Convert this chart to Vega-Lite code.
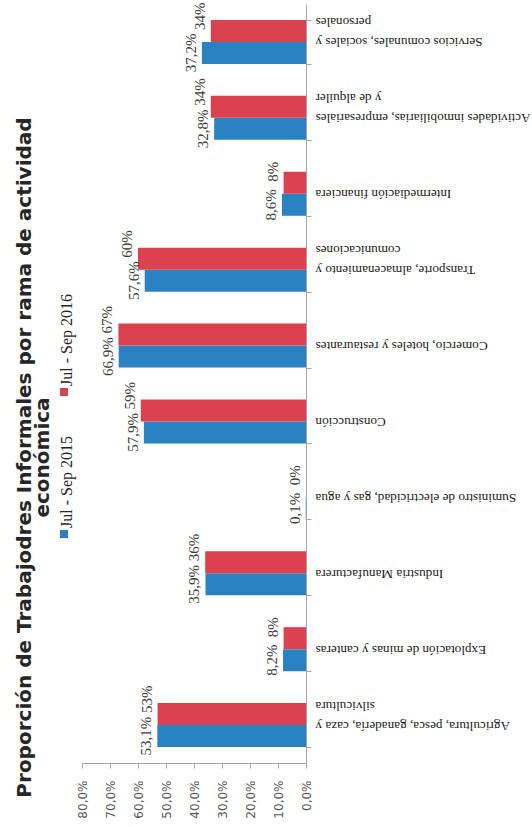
{
  "$schema": "https://vega.github.io/schema/vega-lite/v6.json",
  "width": 224,
  "height": 759,
  "autosize": {"type": "none"},
  "padding": {"left": 82, "top": 4, "right": 226, "bottom": 64},
  "background": "white",
  "title": {
    "text": ["Proporción de Trabajodres Informales por rama de actividad", "económica"],
    "orient": "left",
    "anchor": "middle",
    "font": "DejaVu Sans",
    "fontSize": 20,
    "fontWeight": "bold",
    "color": "#262626",
    "offset": 3,
    "dx": -74,
    "lineHeight": 18
  },
  "config": {
    "view": {"stroke": null},
    "locale": {"number": {"decimal": ",", "thousands": ".", "grouping": [3], "currency": ["", " €"]}}
  },
  "data": {
    "values": [
      {"rama": "Agricultura, pesca, ganadería, caza y silvicultura", "serie": "Jul - Sep 2015", "valor": 0.531},
      {"rama": "Agricultura, pesca, ganadería, caza y silvicultura", "serie": "Jul - Sep 2016", "valor": 0.53},
      {"rama": "Explotación de minas y canteras", "serie": "Jul - Sep 2015", "valor": 0.082},
      {"rama": "Explotación de minas y canteras", "serie": "Jul - Sep 2016", "valor": 0.08},
      {"rama": "Industria Manufacturera", "serie": "Jul - Sep 2015", "valor": 0.359},
      {"rama": "Industria Manufacturera", "serie": "Jul - Sep 2016", "valor": 0.36},
      {"rama": "Suministro de electricidad, gas y agua", "serie": "Jul - Sep 2015", "valor": 0.001},
      {"rama": "Suministro de electricidad, gas y agua", "serie": "Jul - Sep 2016", "valor": 0},
      {"rama": "Construcción", "serie": "Jul - Sep 2015", "valor": 0.579},
      {"rama": "Construcción", "serie": "Jul - Sep 2016", "valor": 0.59},
      {"rama": "Comercio, hoteles y restaurantes", "serie": "Jul - Sep 2015", "valor": 0.669},
      {"rama": "Comercio, hoteles y restaurantes", "serie": "Jul - Sep 2016", "valor": 0.67},
      {"rama": "Transporte, almacenamiento y comunicaciones", "serie": "Jul - Sep 2015", "valor": 0.576},
      {"rama": "Transporte, almacenamiento y comunicaciones", "serie": "Jul - Sep 2016", "valor": 0.6},
      {"rama": "Intermediación financiera", "serie": "Jul - Sep 2015", "valor": 0.086},
      {"rama": "Intermediación financiera", "serie": "Jul - Sep 2016", "valor": 0.08},
      {"rama": "Actividades inmobiliarias, empresariales y de alquiler", "serie": "Jul - Sep 2015", "valor": 0.328},
      {"rama": "Actividades inmobiliarias, empresariales y de alquiler", "serie": "Jul - Sep 2016", "valor": 0.34},
      {"rama": "Servicios comunales, sociales y personales", "serie": "Jul - Sep 2015", "valor": 0.372},
      {"rama": "Servicios comunales, sociales y personales", "serie": "Jul - Sep 2016", "valor": 0.34}
    ]
  },
  "encoding": {
    "y": {
      "field": "rama",
      "type": "nominal",
      "sort": [
        "Servicios comunales, sociales y personales",
        "Actividades inmobiliarias, empresariales y de alquiler",
        "Intermediación financiera",
        "Transporte, almacenamiento y comunicaciones",
        "Comercio, hoteles y restaurantes",
        "Construcción",
        "Suministro de electricidad, gas y agua",
        "Industria Manufacturera",
        "Explotación de minas y canteras",
        "Agricultura, pesca, ganadería, caza y silvicultura"
      ],
      "scale": {"paddingInner": 0.42, "paddingOuter": 0.21},
      "axis": {
        "orient": "right",
        "title": null,
        "labelAngle": 180,
        "labelAlign": "right",
        "labelBaseline": "middle",
        "labelFont": "Liberation Serif",
        "labelFontSize": 13.2,
        "labelColor": "#1a1a1a",
        "labelLimit": 300,
        "labelPadding": 4,
        "labelLineHeight": 20,
        "labelOverlap": false,
        "tickBand": "extent",
        "tickSize": 5,
        "tickColor": "#A6A6A6",
        "domainColor": "#A6A6A6",
        "grid": false,
        "labelExpr": "datum.value == 'Agricultura, pesca, ganadería, caza y silvicultura' ? ['Agricultura, pesca, ganadería, caza y', 'silvicultura'] : datum.value == 'Transporte, almacenamiento y comunicaciones' ? ['Transporte, almacenamiento y', 'comunicaciones'] : datum.value == 'Actividades inmobiliarias, empresariales y de alquiler' ? ['Actividades inmobiliarias, empresariales', 'y de alquiler'] : datum.value == 'Servicios comunales, sociales y personales' ? ['Servicios comunales, sociales y', 'personales'] : datum.label"
      }
    },
    "yOffset": {
      "field": "serie",
      "type": "nominal",
      "scale": {"domain": ["Jul - Sep 2016", "Jul - Sep 2015"]}
    },
    "x": {
      "field": "valor",
      "type": "quantitative",
      "scale": {"domain": [0, 0.8], "reverse": true, "nice": false},
      "axis": {
        "orient": "bottom",
        "title": null,
        "values": [0, 0.1, 0.2, 0.3, 0.4, 0.5, 0.6, 0.7, 0.8],
        "format": ".1%",
        "labelAngle": 270,
        "labelAlign": "right",
        "labelBaseline": "middle",
        "labelFont": "DejaVu Sans",
        "labelFontSize": 12,
        "labelColor": "#595959",
        "labelPadding": 12,
        "labelOverlap": false,
        "labelFlush": false,
        "tickSize": 5,
        "tickColor": "#A6A6A6",
        "domainColor": "#A6A6A6",
        "grid": false
      }
    }
  },
  "layer": [
    {
      "mark": {"type": "bar"},
      "encoding": {
        "color": {
          "field": "serie",
          "type": "nominal",
          "scale": {"domain": ["Jul - Sep 2016", "Jul - Sep 2015"], "range": ["#DC4150", "#2A82C2"]},
          "legend": {
            "orient": "none",
            "legendX": -26,
            "legendY": 380,
            "direction": "vertical",
            "title": null,
            "symbolType": "square",
            "symbolSize": 64,
            "symbolStrokeWidth": 0,
            "labelFont": "Liberation Serif",
            "labelFontSize": 16,
            "labelColor": "#262626",
            "labelAlign": "left",
            "labelBaseline": "middle",
            "labelOffset": -5,
            "labelLimit": 200,
            "rowPadding": 40,
            "encoding": {"labels": {"angle": {"value": 270}, "dx": {"value": 6}}}
          }
        }
      }
    },
    {
      "transform": [{"filter": "datum.serie === 'Jul - Sep 2015'"}],
      "mark": {"type": "text", "angle": 270, "align": "center", "baseline": "alphabetic", "dy": -6, "font": "Liberation Serif", "fontSize": 15, "color": "#404040"},
      "encoding": {"text": {"field": "valor", "type": "quantitative", "format": ".1%"}}
    },
    {
      "transform": [{"filter": "datum.serie === 'Jul - Sep 2016'"}],
      "mark": {"type": "text", "angle": 270, "align": "left", "baseline": "alphabetic", "dy": -6, "dx": 1, "font": "Liberation Serif", "fontSize": 15, "color": "#404040"},
      "encoding": {"text": {"field": "valor", "type": "quantitative", "format": ".0%"}}
    }
  ]
}
